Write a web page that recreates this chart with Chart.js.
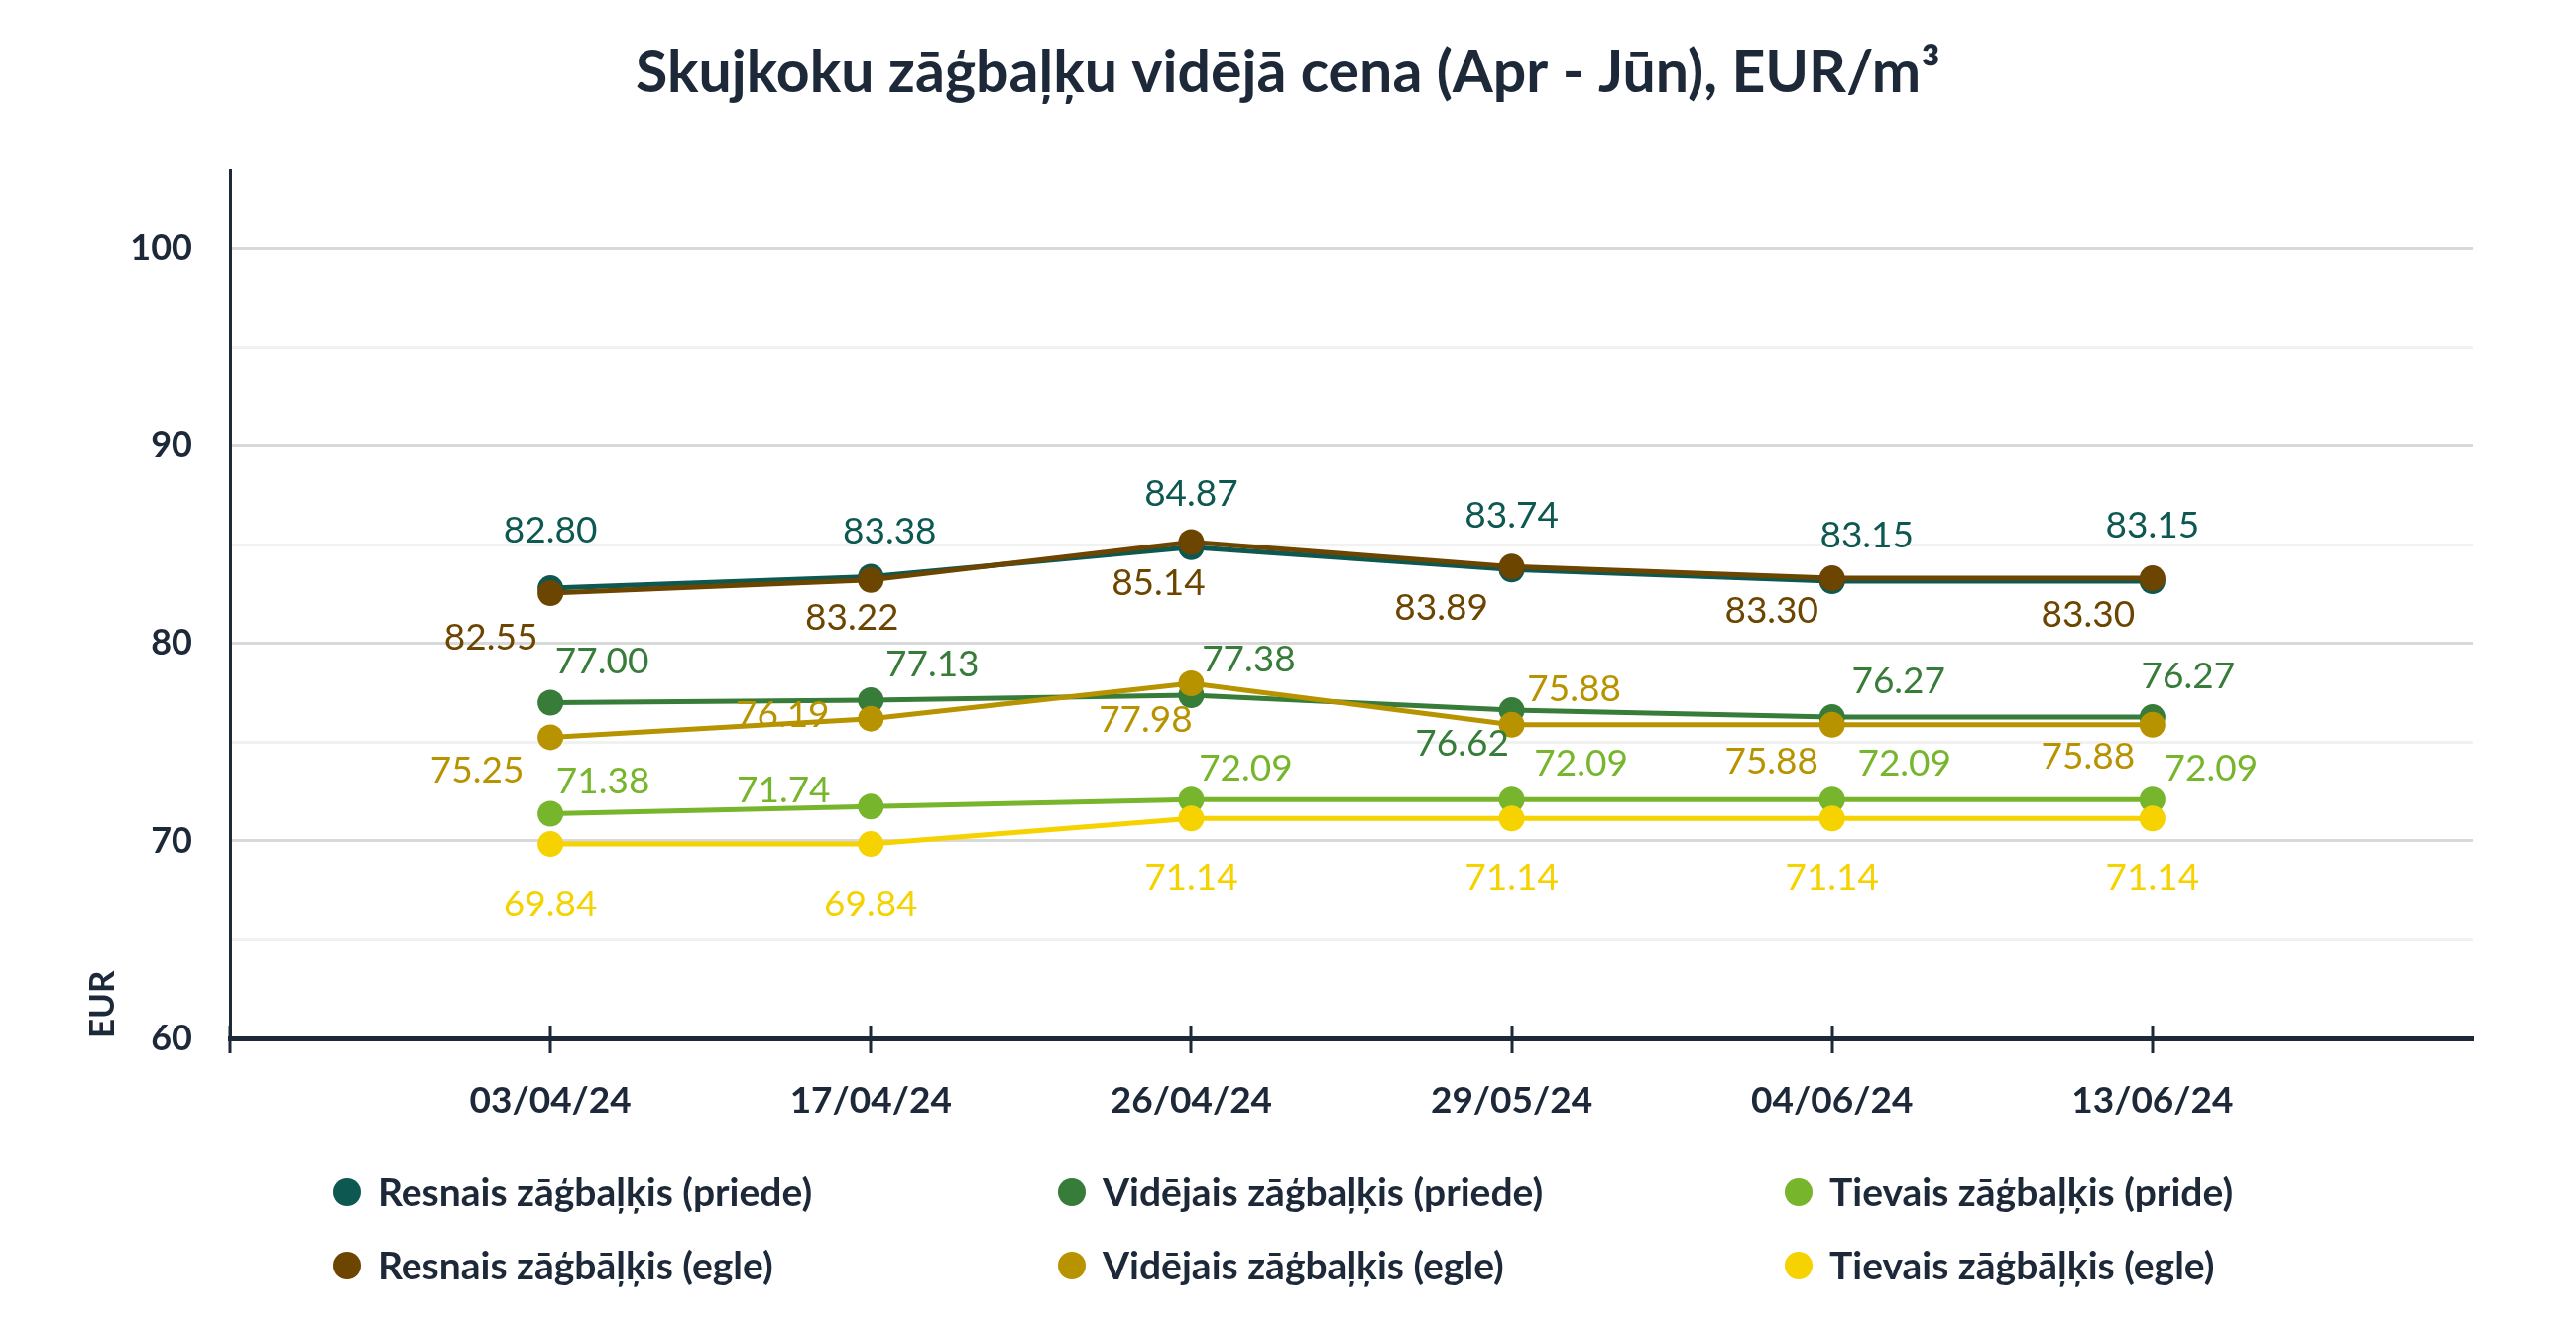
<!DOCTYPE html>
<html>
<head>
<meta charset="utf-8">
<script src="https://cdn.jsdelivr.net/npm/chart.js@4.4.1/dist/chart.umd.min.js"></script>
<style>
  html, body { margin: 0; padding: 0; background: #ffffff; }
  #wrap { width: 2598px; height: 1342px; position: relative; }
</style>
</head>
<body>
<div id="wrap"><canvas id="priceChart"></canvas></div>
<script>
// dates of the price survey
const dates = ['03/04/24', '17/04/24', '26/04/24', '29/05/24', '04/06/24', '13/06/24'];

// EUR/m3 per series
const resnaisPriede = [82.80, 83.38, 84.87, 83.74, 83.15, 83.15];
const vidējaisPriede = [77.00, 77.13, 77.38, 76.62, 76.27, 76.27];
const tievaisPriede = [71.38, 71.74, 72.09, 72.09, 72.09, 72.09];
const resnaisEgle = [82.55, 83.22, 85.14, 83.89, 83.30, 83.30];
const vidējaisEgle = [75.25, 76.19, 77.98, 75.88, 75.88, 75.88];
const tievaisEgle = [69.84, 69.84, 71.14, 71.14, 71.14, 71.14];

const seriesNames = [
    'Resnais zāģbaļķis (priede)', 'Vidējais zāģbaļķis (priede)', 'Tievais zāģbaļķis (pride)',
    'Resnais zāģbāļķis (egle)', 'Vidējais zāģbaļķis (egle)', 'Tievais zāģbāļķis (egle)'
];
const seriesValues = [resnaisPriede, vidējaisPriede, tievaisPriede, resnaisEgle, vidējaisEgle, tievaisEgle];
const seriesColors = ['#0D5850', '#387C3A', '#77B52C', '#6C4601', '#B89300', '#F6D200'];
const chartTitle = 'Skujkoku zāģbaļķu vidējā cena (Apr - Jūn), EUR/m³';

// value label offsets from the point (px), per series
const labelOffsets = [
    [[0, -58], [19, -45], [0, -54], [0, -54], [35, -46], [0, -56]],
    [[52, -41], [62, -36], [58, -36], [-50, 34], [67, -36], [36, -41]],
    [[53, -32], [-88, -16], [55, -31], [70, -36], [73, -36], [59, -31]],
    [[-60, 45], [-19, 38], [-33, 42], [-71, 42], [-61, 33], [-65, 37]],
    [[-74, 34], [-89, -4], [-46, 37], [63, -36], [-61, 37], [-65, 32]],
    [[0, 61], [0, 61], [0, 60], [0, 60], [0, 60], [0, 60]]
];

const navy = '#1D2939';
const canvas = document.getElementById('priceChart');

const valueLabels = {
    id: 'valueLabels',
    afterDatasetsDraw(chart) {
        const ctx = chart.ctx;
        ctx.save();
        ctx.font = '37px Lato';
        ctx.textAlign = 'center';
        ctx.textBaseline = 'middle';
        chart.data.datasets.forEach((ds, i) => {
            const meta = chart.getDatasetMeta(i);
            meta.data.forEach((pt, j) => {
                const off = labelOffsets[i][j];
                ctx.fillStyle = ds.borderColor;
                ctx.fillText(ds.data[j].y.toFixed(2), pt.x + off[0], pt.y + off[1]);
            });
        });
        ctx.restore();
    }
};

const axisTicks = {
    id: 'axisTicks',
    afterDraw(chart) {
        const x = chart.scales.x;
        const ctx = chart.ctx;
        const y0 = chart.chartArea.bottom;
        ctx.save();
        ctx.strokeStyle = navy;
        ctx.lineWidth = 3;
        for (let v = 0; v < 7; v++) {
            const px = Math.round(x.getPixelForValue(v));
            ctx.beginPath();
            ctx.moveTo(px, y0 - 13);
            ctx.lineTo(px, y0 + 15);
            ctx.stroke();
        }
        ctx.restore();
    }
};

// title centred on the whole canvas, legend as a 3 x 2 grid
const titleAndLegend = {
    id: 'titleAndLegend',
    afterDraw(chart) {
        const ctx = chart.ctx;
        ctx.save();
        ctx.fillStyle = navy;
        ctx.font = 'bold 59px Lato';
        ctx.textAlign = 'center';
        ctx.textBaseline = 'middle';
        ctx.fillText(chartTitle, chart.width / 2, 74);

        const cols = [350, 1081, 1814];
        const rows = [1202, 1276];
        ctx.font = 'bold 39px Lato';
        ctx.textAlign = 'left';
        chart.data.datasets.forEach((ds, i) => {
            const cx = cols[i % 3], cy = rows[Math.floor(i / 3)];
            ctx.fillStyle = ds.borderColor;
            ctx.beginPath();
            ctx.arc(cx, cy, 14, 0, Math.PI * 2);
            ctx.fill();
            ctx.fillStyle = navy;
            ctx.fillText(ds.label, cx + 31, cy + 1);
        });
        ctx.restore();
    }
};

new Chart(canvas, {
    type: 'line',
    data: {
        datasets: seriesValues.map((vals, i) => ({
            label: seriesNames[i],
            data: vals.map((v, j) => ({ x: j + 1, y: v })),
            borderColor: seriesColors[i],
            backgroundColor: seriesColors[i],
            pointBackgroundColor: seriesColors[i],
            pointBorderWidth: 0,
            pointRadius: 13,
            borderWidth: 5,
            tension: 0,
            order: 6 - i
        }))
    },
    options: {
        responsive: true,
        maintainAspectRatio: false,
        animation: false,
        layout: { padding: { left: 0, right: 104, top: 171, bottom: 175 } },
        plugins: {
            legend: { display: false },
            tooltip: { enabled: false },
            title: { display: false }
        },
        scales: {
            x: {
                type: 'linear',
                min: 0,
                max: 7,
                afterFit(scale) { scale.height = 120; },
                grid: { display: false, drawTicks: false },
                border: { display: true, color: navy, width: 5 },
                ticks: {
                    stepSize: 1,
                    autoSkip: false,
                    maxRotation: 0,
                    padding: 41,
                    color: navy,
                    font: { family: 'Lato', size: 37, weight: 'bold' },
                    callback: (v) => dates[v - 1] || ''
                }
            },
            y: {
                min: 60,
                max: 104,
                afterFit(scale) { scale.width = 232; },
                grid: {
                    drawTicks: false,
                    lineWidth: 3,
                    color: (c) => (c.tick && c.tick.value % 10 === 0) ? '#d9d9d9' : '#f1f1f1'
                },
                border: { display: true, color: navy, width: 3 },
                ticks: {
                    stepSize: 5,
                    includeBounds: false,
                    padding: 38,
                    color: navy,
                    font: { family: 'Lato', size: 36, weight: 'bold' },
                    callback: (v) => v % 10 === 0 ? v : ''
                },
                title: {
                    display: true,
                    text: 'EUR',
                    align: 'start',
                    color: navy,
                    font: { family: 'Lato', size: 35, weight: 'bold', lineHeight: 1.2 },
                    padding: { top: 83, bottom: 0 }
                }
            }
        }
    },
    plugins: [valueLabels, axisTicks, titleAndLegend]
});
</script>
</body>
</html>
